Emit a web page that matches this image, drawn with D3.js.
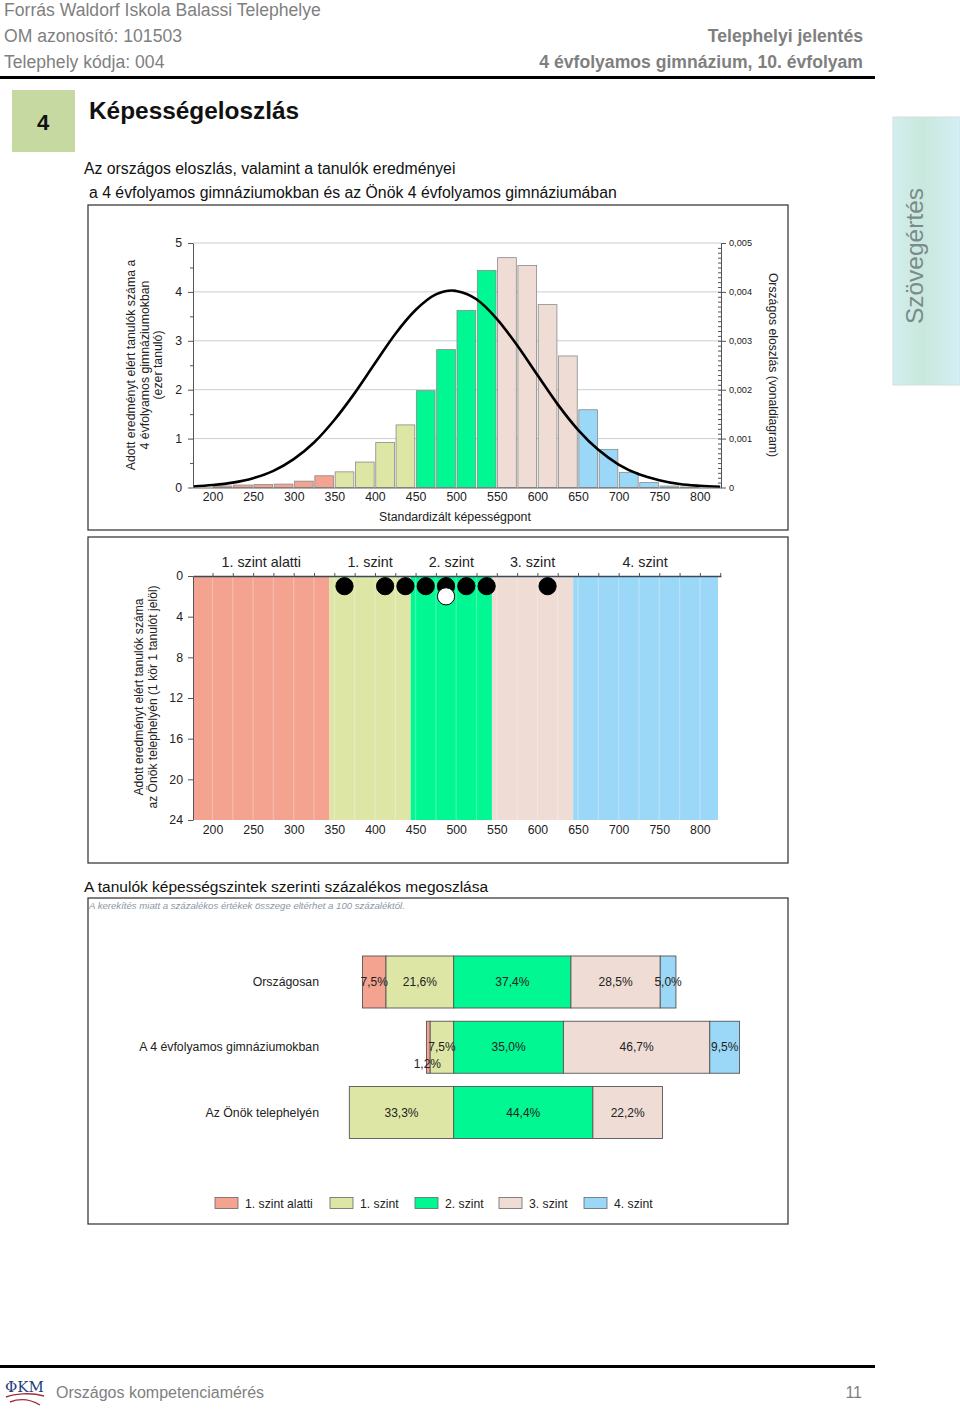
<!DOCTYPE html>
<html><head><meta charset="utf-8">
<script src="https://cdn.jsdelivr.net/npm/d3@7"></script>
<style>
body{margin:0;background:#fff}
svg{display:block;font-family:"Liberation Sans",Arial,sans-serif}
</style>
</head><body>
<svg id="c" width="960" height="1409"></svg>
<script>
// ---------------- DATA ----------------
const levels = ["1. szint alatti", "1. szint", "2. szint", "3. szint", "4. szint"];
const levelColors = ["#F3A390", "#DEE6A6", "#00F792", "#EEDCD5", "#9BD8F8"];
const levelBounds = [176, 344, 444, 544, 644, 826];

const binCenters = [212.5, 237.5, 262.5, 287.5, 312.5, 337.5, 362.5, 387.5, 412.5, 437.5, 462.5, 487.5,
                    512.5, 537.5, 562.5, 587.5, 612.5, 637.5, 662.5, 687.5, 712.5, 737.5, 762.5, 787.5];
const binValues = [0.03, 0.05, 0.06, 0.07, 0.13, 0.24, 0.32, 0.52, 0.92, 1.28, 1.98, 2.82,
                   3.62, 4.44, 4.70, 4.54, 3.74, 2.69, 1.59, 0.78, 0.31, 0.10, 0.03, 0.01];
const binLevel = [0, 0, 0, 0, 0, 0, 1, 1, 1, 1, 2, 2, 2, 2, 3, 3, 3, 3, 4, 4, 4, 4, 4, 4];

const curveX = [176, 200, 225, 250, 275, 300, 325, 350, 375, 400, 425, 450, 475, 495, 500, 525, 550, 575, 600, 625, 650, 675, 700, 725, 750, 775, 800, 825];
const curveY = [0.00002, 0.00005, 0.0001, 0.00019, 0.00034, 0.00058, 0.00092, 0.00138, 0.00193, 0.00254, 0.00314, 0.00363, 0.00395, 0.00403, 0.00402,
                0.00385, 0.00345, 0.00291, 0.0023, 0.0017, 0.00118, 0.00077, 0.00047, 0.00027, 0.00015, 0.00007, 0.000035, 0.000016];

const xTickValues = [200, 250, 300, 350, 400, 450, 500, 550, 600, 650, 700, 750, 800];
const leftTickValues = [0, 1, 2, 3, 4, 5];
const rightTickValues = [0, 0.001, 0.002, 0.003, 0.004, 0.005];

const siteScores = [362.5, 412.5, 437.5, 462.5, 487.5, 487.5, 512.5, 537.5, 612.5];
const siteRow    = [1, 1, 1, 1, 1, 2, 1, 1, 1];
const siteHollow = [false, false, false, false, false, true, false, false, false];
const siteTickValues = [0, 4, 8, 12, 16, 20, 24];

const groups = ["Országosan", "A 4 évfolyamos gimnáziumokban", "Az Önök telephelyén"];
const pctNational = [7.5, 21.6, 37.4, 28.5, 5.0];
const pctType     = [1.2, 7.5, 35.0, 46.7, 9.5];
const pctSite     = [0, 33.3, 44.4, 22.2, 0];

// ---------------- SETUP ----------------
const svg = d3.select("#c");
const FONT = '"Liberation Sans", Arial, sans-serif';
const hu = d3.formatLocale({decimal: ",", thousands: " ", grouping: [3], currency: ["", " Ft"]});
const fmtPct = v => hu.format(".1f")(v) + "%";
const fmtDens = v => v === 0 ? "0" : hu.format(".3f")(v);

// Header
const hdrGray = "#7f7f7f";
svg.append("text").attr("x", 4).attr("y", 16).attr("font-size", 17.6).attr("fill", hdrGray).text("Forrás Waldorf Iskola Balassi Telephelye");
svg.append("text").attr("x", 4).attr("y", 42).attr("font-size", 17.6).attr("fill", hdrGray).text("OM azonosító: 101503");
svg.append("text").attr("x", 4).attr("y", 68).attr("font-size", 17.6).attr("fill", hdrGray).text("Telephely kódja: 004");
svg.append("text").attr("x", 863).attr("y", 42).attr("font-size", 17.6).attr("font-weight", "bold").attr("text-anchor", "end").attr("fill", hdrGray).text("Telephelyi jelentés");
svg.append("text").attr("x", 863).attr("y", 68).attr("font-size", 17.6).attr("font-weight", "bold").attr("text-anchor", "end").attr("fill", hdrGray).text("4 évfolyamos gimnázium, 10. évfolyam");
svg.append("rect").attr("x", 0).attr("y", 76).attr("width", 875).attr("height", 3).attr("fill", "#000");

// Section heading
svg.append("rect").attr("x", 12).attr("y", 90).attr("width", 63).attr("height", 62).attr("fill", "#C6D9A0");
svg.append("text").attr("x", 43).attr("y", 130).attr("font-size", 22).attr("font-weight", "bold").attr("text-anchor", "middle").attr("fill", "#111").text("4");
svg.append("text").attr("x", 89).attr("y", 119).attr("font-size", 24.4).attr("font-weight", "bold").attr("fill", "#111").text("Képességeloszlás");
svg.append("text").attr("x", 84).attr("y", 174).attr("font-size", 15.8).attr("fill", "#111").text("Az országos eloszlás, valamint a tanulók eredményei");
svg.append("text").attr("x", 89).attr("y", 198).attr("font-size", 15.8).attr("fill", "#111").text("a 4 évfolyamos gimnáziumokban és az Önök 4 évfolyamos gimnáziumában");

// Side tab
const defs = svg.append("defs");
const g1 = defs.append("linearGradient").attr("id", "tabg").attr("x1", 0).attr("y1", 0).attr("x2", 1).attr("y2", 0);
g1.append("stop").attr("offset", "0%").attr("stop-color", "#d2eeee");
g1.append("stop").attr("offset", "45%").attr("stop-color", "#c9e8dc");
g1.append("stop").attr("offset", "100%").attr("stop-color", "#d4eff6");
svg.append("rect").attr("x", 893).attr("y", 117).attr("width", 67).attr("height", 268).attr("fill", "url(#tabg)").attr("stroke", "#d8dede");
svg.append("text").attr("transform", "translate(923,256) rotate(-90)").attr("font-size", 24.5).attr("text-anchor", "middle").attr("fill", "#7b8b8b").text("Szövegértés");

// Frames
[[88, 205, 700, 325], [88, 537, 700, 326], [88, 898, 700, 326]].forEach(f => {
  svg.append("rect").attr("x", f[0]).attr("y", f[1]).attr("width", f[2]).attr("height", f[3])
    .attr("fill", "none").attr("stroke", "#3c3c3c").attr("stroke-width", 1.3);
});

// ---------------- CHART 1 ----------------
const x = d3.scaleLinear().domain([176, 826]).range([193, 721]);
const y1 = d3.scaleLinear().domain([0, 5]).range([487.5, 243]);
const y1r = d3.scaleLinear().domain([0, 0.005]).range([487.5, 243]);
const c1 = svg.append("g");

c1.selectAll("line.grid").data(leftTickValues.slice(1)).join("line")
  .attr("x1", 193).attr("x2", 721).attr("y1", d => y1(d)).attr("y2", d => y1(d))
  .attr("stroke", "#c6ced4").attr("stroke-width", 1);

c1.selectAll("rect.bar").data(binCenters).join("rect")
  .attr("x", d => x(d - 12.5) + 0.8).attr("width", d => x(d + 12.5) - x(d - 12.5) - 1.6)
  .attr("y", (d, i) => y1(binValues[i])).attr("height", (d, i) => y1(0) - y1(binValues[i]))
  .attr("fill", (d, i) => levelColors[binLevel[i]]).attr("stroke", "#8a8a8a").attr("stroke-width", 0.8);

const line = d3.line().x((d, i) => x(curveX[i])).y(d => y1r(d)).curve(d3.curveMonotoneX);
c1.append("path").datum(curveY).attr("d", line).attr("fill", "none").attr("stroke", "#000").attr("stroke-width", 2.6);

function styleAxis(g, fs) {
  g.selectAll("path.domain").attr("stroke", "#555");
  g.selectAll("line").attr("stroke", "#555");
  g.selectAll("text").attr("font-family", FONT).attr("font-size", fs).attr("fill", "#222");
}
const la = c1.append("g").attr("transform", "translate(193,0)")
  .call(d3.axisLeft(y1).tickValues(leftTickValues).tickSize(5).tickSizeOuter(0).tickPadding(6).tickFormat(d3.format("d")));
styleAxis(la, 12.3);
const lam = c1.append("g").attr("transform", "translate(193,0)")
  .call(d3.axisLeft(y1).tickValues([0.5, 1.5, 2.5, 3.5, 4.5]).tickSize(3).tickFormat(""));
styleAxis(lam, 12); lam.select("path.domain").remove();
const ra = c1.append("g").attr("transform", "translate(721,0)")
  .call(d3.axisRight(y1r).tickValues(rightTickValues).tickSize(5).tickSizeOuter(0).tickPadding(3).tickFormat(fmtDens));
styleAxis(ra, 9.2);
const ram = c1.append("g").attr("transform", "translate(721,0)")
  .call(d3.axisLeft(y1r).tickValues(d3.range(1, 50).map(k => k / 10000)).tickSize(3).tickFormat(""));
styleAxis(ram, 9); ram.select("path.domain").remove();
const ba = c1.append("g").attr("transform", "translate(0,487.5)")
  .call(d3.axisBottom(x).tickValues(xTickValues).tickSize(0).tickSizeOuter(0).tickPadding(5));
styleAxis(ba, 12.3);
ba.select("path.domain").attr("stroke", "#666");

const lt = c1.append("text").attr("transform", "translate(145,365) rotate(-90)").attr("text-anchor", "middle").attr("font-size", 12.3).attr("fill", "#222");
["Adott eredményt elért tanulók száma a", "4 évfolyamos gimnáziumokban", "(ezer tanuló)"].forEach((t, i) => {
  lt.append("tspan").attr("x", 0).attr("y", -10 + i * 13.5).text(t);
});
c1.append("text").attr("transform", "translate(769,365) rotate(90)").attr("text-anchor", "middle").attr("font-size", 12.2).attr("fill", "#222").text("Országos eloszlás (vonaldiagram)");
c1.append("text").attr("x", 455).attr("y", 521).attr("text-anchor", "middle").attr("font-size", 12.3).attr("fill", "#222").text("Standardizált képességpont");

// ---------------- CHART 2 ----------------
const y2 = d3.scaleLinear().domain([0, 24]).range([576, 820]);
const c2 = svg.append("g");
c2.selectAll("rect.band").data(levels).join("rect")
  .attr("x", (d, i) => x(levelBounds[i])).attr("width", (d, i) => x(levelBounds[i + 1]) - x(levelBounds[i]) - (i === 4 ? 3 : 0))
  .attr("y", y2(0)).attr("height", y2(24) - y2(0)).attr("fill", (d, i) => levelColors[i]);
c2.selectAll("line.stripe").data(d3.range(200, 826, 25)).join("line")
  .attr("x1", d => x(d)).attr("x2", d => x(d)).attr("y1", y2(0)).attr("y2", y2(24))
  .attr("stroke", "#fff").attr("stroke-opacity", 0.28).attr("stroke-width", 1.2);
c2.selectAll("text.lvl").data(levels).join("text")
  .attr("x", (d, i) => (x(levelBounds[i]) + x(levelBounds[i + 1])) / 2 - (i === 4 ? 2 : 0)).attr("y", 567)
  .attr("text-anchor", "middle").attr("font-size", 14.3).attr("fill", "#222").text(d => d);
const ta = c2.append("g").attr("transform", `translate(0,${y2(0)})`)
  .call(d3.axisTop(x).tickValues(d3.range(200, 826, 25)).tickSize(3).tickSizeOuter(0).tickFormat(""));
styleAxis(ta, 12);
ta.select("path.domain").attr("stroke", "#3a4a5a").attr("stroke-width", 1.4);
const la2 = c2.append("g").attr("transform", "translate(193,0)")
  .call(d3.axisLeft(y2).tickValues(siteTickValues).tickSize(5).tickSizeOuter(0).tickPadding(5));
styleAxis(la2, 12.3);
const ba2 = c2.append("g").attr("transform", `translate(0,${y2(24)})`)
  .call(d3.axisBottom(x).tickValues(xTickValues).tickSize(0).tickSizeOuter(0).tickPadding(5));
styleAxis(ba2, 12.3); ba2.select("path.domain").remove();
c2.selectAll("circle.st").data(siteScores).join("circle")
  .attr("cx", d => x(d)).attr("cy", (d, i) => y2(siteRow[i]))
  .attr("r", 8.6)
  .attr("fill", (d, i) => siteHollow[i] ? "#fff" : "#000")
  .attr("stroke", "#000").attr("stroke-width", 1);
const lt2 = c2.append("text").attr("transform", "translate(146,697) rotate(-90)").attr("text-anchor", "middle").attr("font-size", 12.1).attr("fill", "#222");
["Adott eredményt elért tanulók száma", "az Önök telephelyén (1 kör 1 tanulót jelöl)"].forEach((t, i) => {
  lt2.append("tspan").attr("x", 0).attr("y", -3 + i * 13.5).text(t);
});

// ---------------- CHART 3 ----------------
svg.append("text").attr("x", 84).attr("y", 892).attr("font-size", 15.5).attr("fill", "#111").text("A tanulók képességszintek szerinti százalékos megoszlása");
svg.append("text").attr("x", 89).attr("y", 909).attr("font-size", 9.6).attr("font-style", "italic").attr("fill", "#8a97a6")
  .text("A kerekítés miatt a  százalékos értékek összege eltérhet a 100 százaléktól.");

const xp = d3.scaleLinear().domain([-35, 90]).range([344, 735.8]);
const yp = d3.scalePoint().domain(groups).range([982, 1112.5]);
const barH = 52;
const rows = [pctNational, pctType, pctSite];
const c3 = svg.append("g");
rows.forEach((vals, r) => {
  let acc = -(vals[0] + vals[1]);
  const segs = vals.map((v, i) => { const s = {i, v, x0: acc, x1: acc + v}; acc += v; return s; });
  const gy = yp(groups[r]);
  const rg = c3.append("g");
  rg.selectAll("rect").data(segs.filter(s => s.v > 0)).join("rect")
    .attr("x", s => xp(s.x0)).attr("width", s => xp(s.x1) - xp(s.x0))
    .attr("y", gy - barH / 2).attr("height", barH)
    .attr("fill", s => levelColors[s.i]).attr("stroke", "#555").attr("stroke-width", 0.9);
  rg.selectAll("text").data(segs.filter(s => s.v > 0)).join("text")
    .attr("x", s => (xp(s.x0) + xp(s.x1)) / 2 + (s.v < 3 ? -1 : 0))
    .attr("y", s => s.v < 3 ? gy + 21 : gy + 4)
    .attr("text-anchor", "middle").attr("font-size", 12).attr("fill", "#222")
    .text(s => fmtPct(s.v));
  c3.append("text").attr("x", 319).attr("y", gy + 4).attr("text-anchor", "end").attr("font-size", 12.3).attr("fill", "#222").text(groups[r]);
});

// legend (layout positions)
const legX = [215, 330, 415, 499, 584];
const leg = svg.append("g");
levels.forEach((l, i) => {
  leg.append("rect").attr("x", legX[i]).attr("y", 1197.5).attr("width", 23).attr("height", 11)
    .attr("fill", levelColors[i]).attr("stroke", "#666").attr("stroke-width", 0.8);
  leg.append("text").attr("x", legX[i] + 30).attr("y", 1207.5).attr("font-size", 12.2).attr("fill", "#222").text(l);
});

// ---------------- FOOTER ----------------
svg.append("rect").attr("x", 0).attr("y", 1365).attr("width", 875).attr("height", 3).attr("fill", "#000");
svg.append("path").attr("d", "M6,1397 C14,1394 30,1392 44,1396 M10,1402 C20,1398 30,1399 40,1405")
  .attr("fill", "none").attr("stroke", "#a0303a").attr("stroke-width", 1.4);
svg.append("text").attr("x", 5).attr("y", 1392).attr("font-size", 15).attr("font-family", "DejaVu Serif, serif").attr("fill", "#1d3f7a").text("ΦKM");
svg.append("text").attr("x", 56).attr("y", 1398).attr("font-size", 16).attr("fill", hdrGray).text("Országos kompetenciamérés");
svg.append("text").attr("x", 862).attr("y", 1398).attr("font-size", 16).attr("text-anchor", "end").attr("fill", hdrGray).text("11");
</script>
</body></html>
